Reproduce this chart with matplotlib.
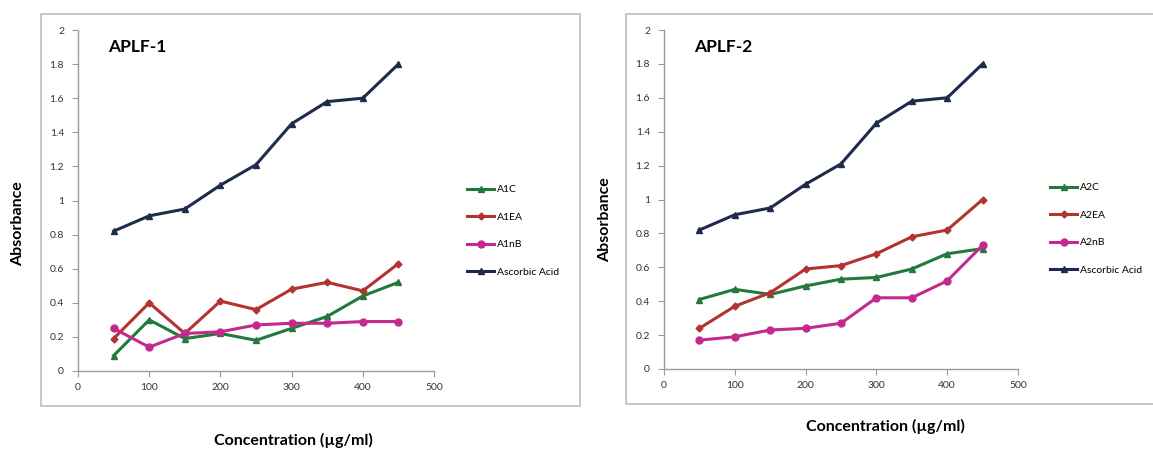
import matplotlib
matplotlib.use("Agg")
from matplotlib import pyplot as plt
from matplotlib.patches import Rectangle

plt.rcParams['font.family'] = ['Lato', 'DejaVu Sans']

conc = [50, 100, 150, 200, 250, 300, 350, 400, 450]

a1c = [0.09, 0.30, 0.19, 0.22, 0.18, 0.25, 0.32, 0.44, 0.52]
a1ea = [0.19, 0.40, 0.22, 0.41, 0.36, 0.48, 0.52, 0.47, 0.63]
a1nb = [0.25, 0.14, 0.22, 0.23, 0.27, 0.28, 0.28, 0.29, 0.29]

a2c = [0.41, 0.47, 0.44, 0.49, 0.53, 0.54, 0.59, 0.68, 0.71]
a2ea = [0.24, 0.37, 0.45, 0.59, 0.61, 0.68, 0.78, 0.82, 1.00]
a2nb = [0.17, 0.19, 0.23, 0.24, 0.27, 0.42, 0.42, 0.52, 0.73]

ascorbic = [0.82, 0.91, 0.95, 1.09, 1.21, 1.45, 1.58, 1.60, 1.80]

labels1 = ['A1C', 'A1EA', 'A1nB', 'Ascorbic Acid']
labels2 = ['A2C', 'A2EA', 'A2nB', 'Ascorbic Acid']

colors = ['#217a3c', '#b2332f', '#c42a8e', '#1f2b4a']
markers = ['^', 'D', 'o', '^']
msizes = [5, 3.5, 5, 5]

W, H = 1153, 450
fig = plt.figure(figsize=(W / 100, H / 100), dpi=100)


def fx(px):
    return px / W


def fy(py):
    return 1 - py / H


# outer frames
fig.patches.append(Rectangle((fx(41), fy(406)), fx(580 - 41), (406 - 14) / H,
                             transform=fig.transFigure, fill=False,
                             edgecolor='#bdbdbd', linewidth=1.2))
fig.patches.append(Rectangle((fx(626), fy(404)), fx(1160 - 626), (404 - 14) / H,
                             transform=fig.transFigure, fill=False,
                             edgecolor='#bdbdbd', linewidth=1.2))


def panel(rect, series, labels, title, legend_xy, xlab_xy, ylab_xy):
    ax = fig.add_axes(rect)
    for vals, lab, c, m, ms in zip(series, labels, colors, markers, msizes):
        ax.plot(conc, vals, color=c, marker=m, markersize=ms, linewidth=2.2,
                label=lab)
    ax.set_xlim(0, 500)
    ax.set_ylim(0, 2)
    ax.set_xticks([0, 100, 200, 300, 400, 500])
    ax.set_yticks([0, 0.2, 0.4, 0.6, 0.8, 1, 1.2, 1.4, 1.6, 1.8, 2])
    ax.set_yticklabels(['0', '0.2', '0.4', '0.6', '0.8', '1', '1.2', '1.4',
                        '1.6', '1.8', '2'])
    for s in ['top', 'right']:
        ax.spines[s].set_visible(False)
    for s in ['left', 'bottom']:
        ax.spines[s].set_color('#9a9a9a')
        ax.spines[s].set_linewidth(1.0)
    ax.tick_params(colors='#9a9a9a', labelcolor='#333333', labelsize=7.5,
                   length=4, width=0.8)
    ax.tick_params(axis='y', pad=6)
    ax.tick_params(axis='x', pad=5)
    ax.text(0.085, 0.95, title, transform=ax.transAxes, fontsize=12.5,
            fontweight='bold', va='center', ha='left')
    ax.legend(loc='center left', bbox_to_anchor=legend_xy,
              bbox_transform=fig.transFigure, frameon=False, fontsize=7.5,
              handlelength=2.6, labelspacing=1.75, handletextpad=0.2)
    fig.text(fx(xlab_xy[0]), fy(xlab_xy[1]), 'Concentration (µg/ml)',
             ha='center', va='center', fontsize=11.5, fontweight='bold')
    fig.text(fx(ylab_xy[0]), fy(ylab_xy[1]), 'Absorbance', rotation=90,
             ha='center', va='center', fontsize=11.5, fontweight='bold')
    return ax


panel([fx(78), fy(371), fx(434 - 78), (371 - 30) / H],
      [a1c, a1ea, a1nb, ascorbic], labels1, 'APLF-1',
      (fx(458), fy(231)), (293, 440), (18, 224))
panel([fx(664), fy(369), fx(1018 - 664), (369 - 30) / H],
      [a2c, a2ea, a2nb, ascorbic], labels2, 'APLF-2',
      (fx(1041), fy(229)), (885, 426), (605, 220))

fig.savefig('out.png', dpi=100)
